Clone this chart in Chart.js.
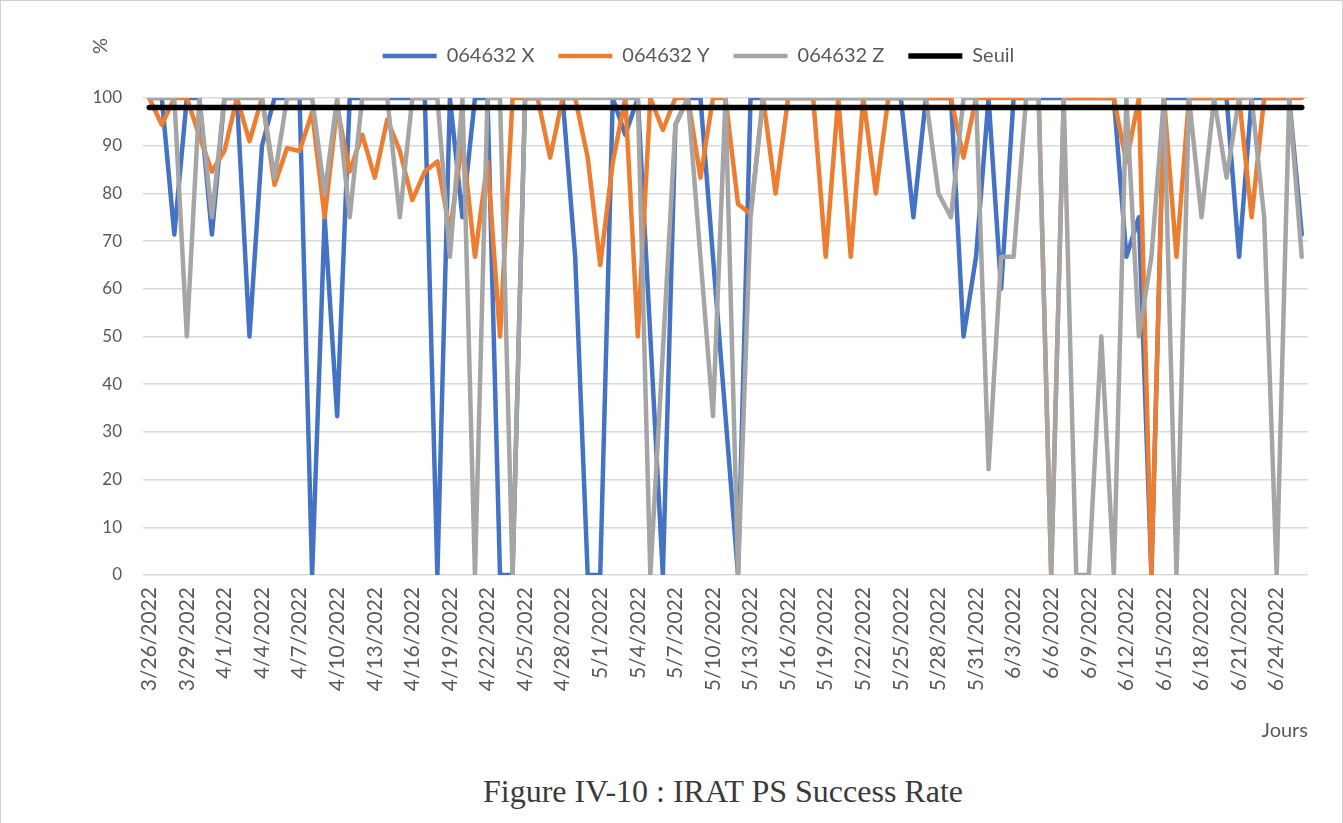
<!DOCTYPE html>
<html lang="fr">
<head>
<meta charset="utf-8">
<title>IRAT PS Success Rate</title>
<script src="https://cdn.jsdelivr.net/npm/chart.js@4.4.1/dist/chart.umd.min.js"></script>
<style>
    html, body { margin: 0; padding: 0; background: #ffffff; }
    #cadre {
        position: relative;
        width: 1343px;
        height: 823px;
        box-sizing: border-box;
        border-left: 1px solid #d0d0d0;
        border-right: 1px solid #d0d0d0;
        border-top: 1px solid #d0d0d0;
        overflow: hidden;
    }
    #zoneGraphe { position: absolute; left: 0; top: 0; width: 1343px; height: 760px; }
    #unite {
        position: absolute; left: 90px; top: 33px;
        font: 20px Lato, "Liberation Sans", sans-serif; color: #595959;
        transform: rotate(-90deg); transform-origin: center;
    }
    #legende {
        position: absolute; left: 101px; width: 1242px; top: 770px;
        text-align: center; font: 32px "Liberation Serif", "DejaVu Serif", serif;
        color: #3a3a3a; line-height: 40px;
    }
</style>
</head>
<body>
<div id="cadre">
    <div id="zoneGraphe"><canvas id="grafikIrat"></canvas></div>
    <div id="unite">%</div>
    <div id="legende">Figure IV-10 : IRAT PS Success Rate</div>
</div>

<script>
// =================================================================
// DONNEES
// =================================================================
const jours = [
    '3/26/2022', '3/27/2022', '3/28/2022', '3/29/2022', '3/30/2022', '3/31/2022',
    '4/1/2022', '4/2/2022', '4/3/2022', '4/4/2022', '4/5/2022', '4/6/2022', '4/7/2022', '4/8/2022',
    '4/9/2022', '4/10/2022', '4/11/2022', '4/12/2022', '4/13/2022', '4/14/2022', '4/15/2022',
    '4/16/2022', '4/17/2022', '4/18/2022', '4/19/2022', '4/20/2022', '4/21/2022', '4/22/2022',
    '4/23/2022', '4/24/2022', '4/25/2022', '4/26/2022', '4/27/2022', '4/28/2022', '4/29/2022',
    '4/30/2022',
    '5/1/2022', '5/2/2022', '5/3/2022', '5/4/2022', '5/5/2022', '5/6/2022', '5/7/2022', '5/8/2022',
    '5/9/2022', '5/10/2022', '5/11/2022', '5/12/2022', '5/13/2022', '5/14/2022', '5/15/2022',
    '5/16/2022', '5/17/2022', '5/18/2022', '5/19/2022', '5/20/2022', '5/21/2022', '5/22/2022',
    '5/23/2022', '5/24/2022', '5/25/2022', '5/26/2022', '5/27/2022', '5/28/2022', '5/29/2022',
    '5/30/2022', '5/31/2022',
    '6/1/2022', '6/2/2022', '6/3/2022', '6/4/2022', '6/5/2022', '6/6/2022', '6/7/2022', '6/8/2022',
    '6/9/2022', '6/10/2022', '6/11/2022', '6/12/2022', '6/13/2022', '6/14/2022', '6/15/2022',
    '6/16/2022', '6/17/2022', '6/18/2022', '6/19/2022', '6/20/2022', '6/21/2022', '6/22/2022',
    '6/23/2022', '6/24/2022', '6/25/2022', '6/26/2022'
];

const secteurX = [
    100, 100, 71.4, 100, 100, 71.4, 100, 100, 50, 90,
    100, 100, 100, 0, 75, 33.3, 100, 100, 100, 100,
    100, 100, 100, 0, 100, 75, 100, 100, 0, 0,
    100, 100, 100, 100, 66.7, 0, 0, 100, 92.3, 100,
    50, 0, 94.4, 100, 100, 66.7, 33.3, 0, 100, 100,
    100, 100, 100, 100, 100, 100, 100, 100, 100, 100,
    100, 75, 100, 100, 100, 50, 66.7, 100, 60, 100,
    100, 100, 100, 100, 100, 100, 100, 100, 66.7, 75,
    0, 100, 100, 100, 100, 100, 100, 66.7, 100, 100,
    100, 100, 71.4
];

const secteurY = [
    100, 94.4, 100, 100, 92, 84.6, 88.9, 100, 90.9, 100,
    81.8, 89.5, 88.9, 97, 75, 98, 84.6, 92.3, 83.3, 95.5,
    88.9, 78.6, 84.6, 86.7, 72, 91, 66.7, 86.7, 50, 100,
    100, 100, 87.5, 100, 100, 87.5, 65, 86.5, 100, 50,
    100, 93.3, 100, 100, 83.3, 100, 100, 77.8, 75.7, 100,
    80, 100, 100, 100, 66.7, 100, 66.7, 100, 80, 100,
    100, 100, 100, 100, 100, 87.5, 100, 100, 100, 100,
    100, 100, 0, 100, 100, 100, 100, 100, 86.5, 100,
    0, 100, 66.7, 100, 100, 100, 100, 100, 75, 100,
    100, 100, 100
];

const secteurZ = [
    100, 100, 100, 50, 100, 75, 100, 100, 100, 100,
    83.3, 100, 100, 100, 80, 100, 75, 100, 100, 100,
    75, 100, 100, 100, 66.7, 100, 0, 100, 100, 0,
    100, 100, 100, 100, 100, 100, 100, 100, 100, 100,
    0, 47, 94.4, 100, 66.7, 33.3, 100, 0, 75, 100,
    100, 100, 100, 100, 100, 100, 100, 100, 100, 100,
    100, 100, 100, 80, 75, 100, 100, 22.2, 66.7, 66.7,
    100, 100, 0, 100, 0, 0, 50, 0, 100, 50,
    66.7, 100, 0, 100, 75, 100, 83.3, 100, 100, 75,
    0, 100, 66.7
];

// Seuil constant de 98 %
const seuil = [
    98, 98, 98, 98, 98, 98, 98, 98, 98, 98,
    98, 98, 98, 98, 98, 98, 98, 98, 98, 98,
    98, 98, 98, 98, 98, 98, 98, 98, 98, 98,
    98, 98, 98, 98, 98, 98, 98, 98, 98, 98,
    98, 98, 98, 98, 98, 98, 98, 98, 98, 98,
    98, 98, 98, 98, 98, 98, 98, 98, 98, 98,
    98, 98, 98, 98, 98, 98, 98, 98, 98, 98,
    98, 98, 98, 98, 98, 98, 98, 98, 98, 98,
    98, 98, 98, 98, 98, 98, 98, 98, 98, 98,
    98, 98, 98
];

const graduationsY = [0, 10, 20, 30, 40, 50, 60, 70, 80, 90, 100];

// =================================================================
// GRAPHIQUE (CHART.JS)
// =================================================================
const couleurTexte = '#595959';
const famille = 'Lato, "Liberation Sans", sans-serif';

// Ecart entre la legende et la zone de trace + decalage horizontal de la legende
const ajusteLegende = {
    id: 'ajusteLegende',
    beforeInit(chart) {
        const fitOrigine = chart.legend.fit;
        chart.legend.fit = function () {
            fitOrigine.call(this);
            this.height += 22;
        };
    },
    afterLayout(chart) {
        chart.legend.left += 44;
        chart.legend.right += 44;
    }
};

function serie(nom, valeurs, couleur, epaisseur, ordre) {
    return {
        label: nom,
        data: valeurs,
        borderColor: couleur,
        backgroundColor: couleur,
        borderWidth: epaisseur,
        borderCapStyle: 'round',
        borderJoinStyle: 'round',
        pointRadius: 0,
        pointHoverRadius: 0,
        tension: 0,
        order: ordre
    };
}

const ctx = document.getElementById('grafikIrat').getContext('2d');
new Chart(ctx, {
    type: 'line',
    data: {
        labels: jours,
        datasets: [
            serie('064632 X', secteurX, '#4472C4', 4.5, 4),
            serie('064632 Y', secteurY, '#ED7D31', 4.5, 3),
            serie('064632 Z', secteurZ, '#A5A5A5', 4.5, 2),
            serie('Seuil', seuil, '#000000', 5.5, 1)
        ]
    },
    options: {
        responsive: true,
        maintainAspectRatio: false,
        animation: false,
        layout: { padding: { top: 21, right: 36, left: 0, bottom: 0 } },
        plugins: {
            tooltip: { enabled: false },
            legend: {
                position: 'top',
                labels: {
                    usePointStyle: true,
                    pointStyle: 'line',
                    pointStyleWidth: 54,
                    padding: 24,
                    color: couleurTexte,
                    font: { family: famille, size: 20 },
                    sort: (a, b) => a.datasetIndex - b.datasetIndex
                }
            }
        },
        scales: {
            x: {
                offset: true,
                grid: { display: false, drawTicks: false },
                border: { display: false },
                ticks: {
                    autoSkip: false,
                    minRotation: 90,
                    maxRotation: 90,
                    padding: 12,
                    color: couleurTexte,
                    font: { family: famille, size: 21 },
                    callback: function (valeur, index) {
                        return index % 3 === 0 ? this.getLabelForValue(valeur) : '';
                    }
                },
                title: {
                    display: true,
                    text: 'Jours',
                    align: 'end',
                    color: couleurTexte,
                    font: { family: famille, size: 20 },
                    padding: { top: 4, bottom: 18 }
                },
                afterFit: (scale) => { scale.height = 760 - 574; }
            },
            y: {
                min: 0,
                max: 100,
                afterBuildTicks: (scale) => {
                    scale.ticks = graduationsY.map(v => ({ value: v }));
                },
                grid: { color: '#D9D9D9', lineWidth: 1.5, drawTicks: false },
                border: { display: false },
                ticks: { padding: 21, color: couleurTexte, font: { family: famille, size: 17 } },
                afterFit: (scale) => { scale.width = 142; }
            }
        }
    },
    plugins: [ajusteLegende]
});
</script>
</body>
</html>
